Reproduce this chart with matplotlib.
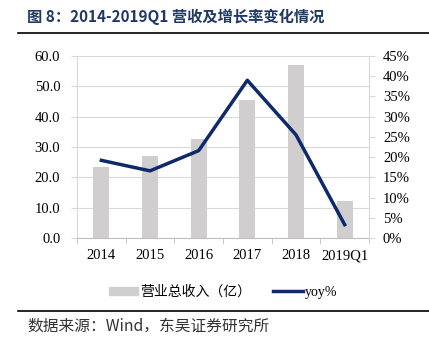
import matplotlib
matplotlib.use('Agg')
import matplotlib.pyplot as plt
from matplotlib.lines import Line2D
from matplotlib.patches import Patch
from matplotlib.ticker import FuncFormatter, FixedLocator

plt.rcParams['font.family'] = ['Liberation Serif', 'Noto Sans CJK SC']

# data
years = ['2014', '2015', '2016', '2017', '2018', '2019Q1']
revenue = [23.3, 27.1, 32.8, 45.6, 56.9, 12.3]      # 营业总收入（亿）
yoy = [19.2, 16.6, 21.6, 39.0, 25.5, 3.3]           # yoy %

title_text = '图 8：2014-2019Q1 营收及增长率变化情况'
source_text = '数据来源：Wind，东吴证券研究所'

bar_color = '#D0CECE'
line_color = '#0E2A6B'
grid_color = '#D9D9D9'
cjk = ['Noto Sans CJK SC', 'DejaVu Sans']

fig = plt.figure(figsize=(4.29, 3.52), dpi=100)
W, H = 429, 352
ax = fig.add_axes([77 / W, 1 - 238 / H, (369 - 77) / W, (238 - 56) / H])
ax2 = ax.twinx()

x = range(len(years))
ax.bar(x, revenue, width=0.33, color=bar_color, zorder=2)
ax2.plot(x, yoy, color=line_color, linewidth=2.5, zorder=3)

ax.set_ylim(0, 60)
ax.set_yticks(range(0, 61, 10))
ax.yaxis.set_major_formatter(FuncFormatter(lambda v, p: f'{v:.1f}'))
ax2.set_ylim(0, 45)
ax2.set_yticks(range(0, 46, 5))
ax2.yaxis.set_major_formatter(FuncFormatter(lambda v, p: f'{v:.0f}%'))
ax.set_xlim(-0.5, len(years) - 0.5)
ax.set_xticks(list(x))
ax.set_xticklabels(years)
ax.xaxis.set_minor_locator(FixedLocator([i - 0.5 for i in range(len(years) + 1)]))

ax.grid(axis='y', color=grid_color, linewidth=0.8, zorder=0)
ax.set_axisbelow(True)
for a in (ax, ax2):
    for s in a.spines.values():
        s.set_visible(False)
    a.tick_params(labelsize=10.5, colors='#000000', length=0)
ax.spines['bottom'].set_visible(True)
ax.spines['bottom'].set_color('#BFBFBF')
ax.spines['left'].set_visible(True)
ax.spines['left'].set_color(grid_color)
ax2.spines['right'].set_visible(True)
ax2.spines['right'].set_color(grid_color)
ax.tick_params(axis='x', which='minor', length=4, color='#BFBFBF')
ax.tick_params(axis='y', length=4, color=grid_color, pad=8)
ax2.tick_params(axis='y', length=4, color=grid_color, pad=6)
ax.tick_params(axis='x', which='major', pad=8)

handles = [Patch(color=bar_color), Line2D([], [], color=line_color, linewidth=2.5)]
fig.legend(handles, ['营业总收入（亿）', 'yoy%'], loc='center', bbox_to_anchor=(223 / W, 1 - 292 / H),
           ncol=2, frameon=False, handlelength=2.1, handleheight=0.5, columnspacing=1.6,
           handletextpad=0.15, prop={'family': ['Liberation Serif', 'Noto Sans CJK SC'], 'size': 10})

fig.text(27 / W, 1 - 17 / H, title_text, fontsize=11, fontweight='bold', color='#1F3864',
         va='center', family=cjk)
fig.add_artist(Line2D([18 / W, 1.0], [1 - 33 / H, 1 - 33 / H], color='black', linewidth=1.2))
fig.add_artist(Line2D([18 / W, 1.0], [1 - 311 / H, 1 - 311 / H], color='black', linewidth=1.2))
fig.text(27 / W, 1 - 326 / H, source_text, fontsize=11.3, color='#333333', va='center', family=cjk)

fig.savefig('out.png', dpi=100)
